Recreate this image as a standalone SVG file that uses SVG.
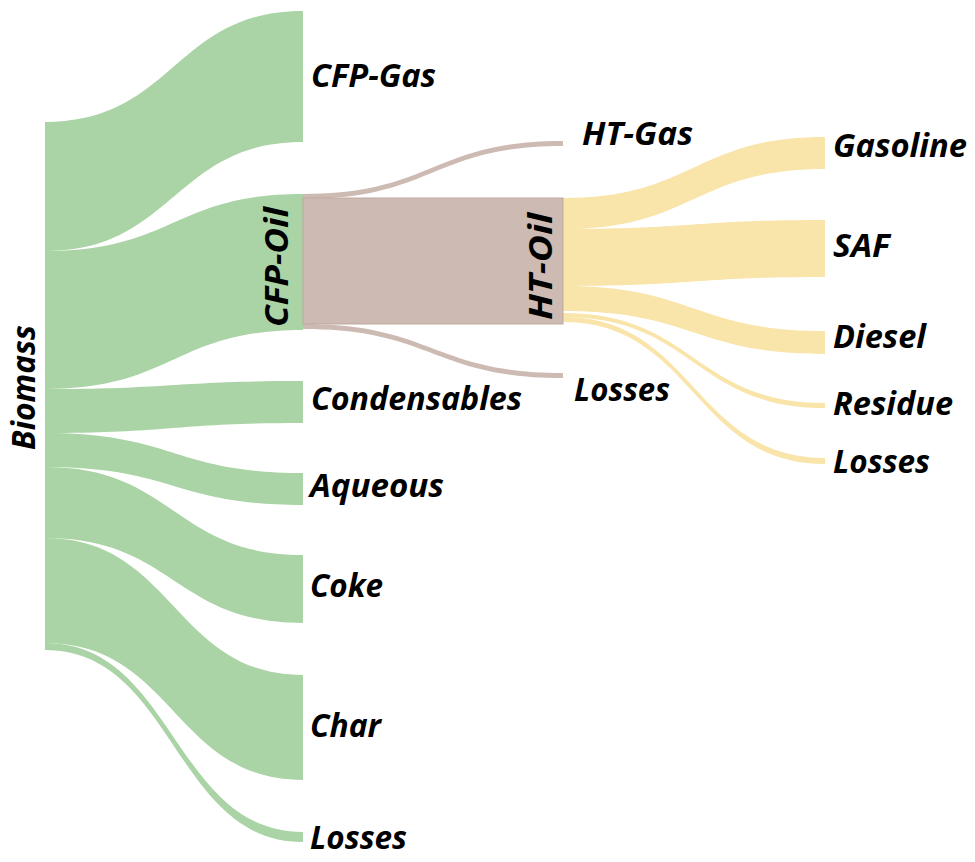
<svg xmlns="http://www.w3.org/2000/svg" width="975" height="862" viewBox="0 0 975 862">
<style>
.lbl{font-family:"Open Sans","Liberation Sans",sans-serif;font-weight:bold;font-style:italic;font-size:33px;fill:#000}
.g{fill:#aad3a6}
.b{fill:#cdbab2}
.y{fill:#f9e4aa}
</style>
<rect x="0" y="0" width="975" height="862" fill="#ffffff"/>
<g id="connectors">
<path class="g" d="M45 122 C174 122 174 11 303 11 L303 142 C174 142 174 251 45 251Z"/>
<path class="g" d="M45 251 C174 251 174 194 303 194 L303 330 C174 330 174 389 45 389Z"/>
<path class="g" d="M45 389 C174 389 174 381 303 381 L303 423 C174 423 174 433 45 433Z"/>
<path class="g" d="M45 433 C174 433 174 473 303 473 L303 505 C174 505 174 467 45 467Z"/>
<path class="g" d="M45 467 C174 467 174 555 303 555 L303 623 C174 623 174 538 45 538Z"/>
<path class="g" d="M45 538 C174 538 174 675 303 675 L303 780 C174 780 174 643 45 643Z"/>
<path class="g" d="M45 643 C174 643 174 832 303 832 L303 842 C174 842 174 650 45 650Z"/>
<path class="b" d="M303 194 C433 194 433 141 563 141 L563 146 C433 146 433 199 303 199Z"/>
<path class="b" d="M303 324 C433 324 433 373 563 373 L563 378 C433 378 433 329 303 329Z"/>
<path class="y" d="M563 198 C694 198 694 137 825 137 L825 169 C694 169 694 229 563 229Z"/>
<path class="y" d="M563 229 C694 229 694 220 825 220 L825 277 C694 277 694 286 563 286Z"/>
<path class="y" d="M563 286 C694 286 694 331 825 331 L825 354 C694 354 694 311 563 311Z"/>
<path class="y" d="M563 313 C694 313 694 403 825 403 L825 408 C694 408 694 317 563 317Z"/>
<path class="y" d="M563 317 C694 317 694 458 825 458 L825 464 C694 464 694 322 563 322Z"/>
</g>
<g id="node-biomass"><text class="lbl" transform="translate(35,450) rotate(-90)" textLength="125" lengthAdjust="spacingAndGlyphs">Biomass</text></g>
<g id="node-cfp-gas"><text class="lbl" x="311" y="87" textLength="125" lengthAdjust="spacingAndGlyphs">CFP-Gas</text></g>
<g id="node-cfp-oil"><text class="lbl" transform="translate(288,327) rotate(-90)" textLength="120" lengthAdjust="spacingAndGlyphs">CFP-Oil</text></g>
<g id="node-condensables"><text class="lbl" x="311" y="410" textLength="211" lengthAdjust="spacingAndGlyphs">Condensables</text></g>
<g id="node-aqueous"><text class="lbl" x="310" y="497" textLength="134" lengthAdjust="spacingAndGlyphs">Aqueous</text></g>
<g id="node-coke"><text class="lbl" x="310" y="597" textLength="73" lengthAdjust="spacingAndGlyphs">Coke</text></g>
<g id="node-char"><text class="lbl" x="310" y="737" textLength="71" lengthAdjust="spacingAndGlyphs">Char</text></g>
<g id="node-losses-1"><text class="lbl" x="310" y="849" textLength="97" lengthAdjust="spacingAndGlyphs">Losses</text></g>
<g id="node-ht-oil">
<rect x="303" y="198" width="260" height="126" fill="#cdbab2" stroke="#bfa99f" stroke-width="1"/>
<text class="lbl" transform="translate(552,320) rotate(-90)" textLength="107" lengthAdjust="spacingAndGlyphs">HT-Oil</text>
</g>
<g id="node-ht-gas"><text class="lbl" x="582" y="145" textLength="111" lengthAdjust="spacingAndGlyphs">HT-Gas</text></g>
<g id="node-losses-2"><text class="lbl" x="574" y="401" textLength="96" lengthAdjust="spacingAndGlyphs">Losses</text></g>
<g id="node-gasoline"><text class="lbl" x="833" y="157" textLength="134" lengthAdjust="spacingAndGlyphs">Gasoline</text></g>
<g id="node-saf"><text class="lbl" x="833" y="257" textLength="57" lengthAdjust="spacingAndGlyphs">SAF</text></g>
<g id="node-diesel"><text class="lbl" x="833" y="348" textLength="93" lengthAdjust="spacingAndGlyphs">Diesel</text></g>
<g id="node-residue"><text class="lbl" x="833" y="415" textLength="120" lengthAdjust="spacingAndGlyphs">Residue</text></g>
<g id="node-losses-3"><text class="lbl" x="833" y="473" textLength="97" lengthAdjust="spacingAndGlyphs">Losses</text></g>
</svg>
